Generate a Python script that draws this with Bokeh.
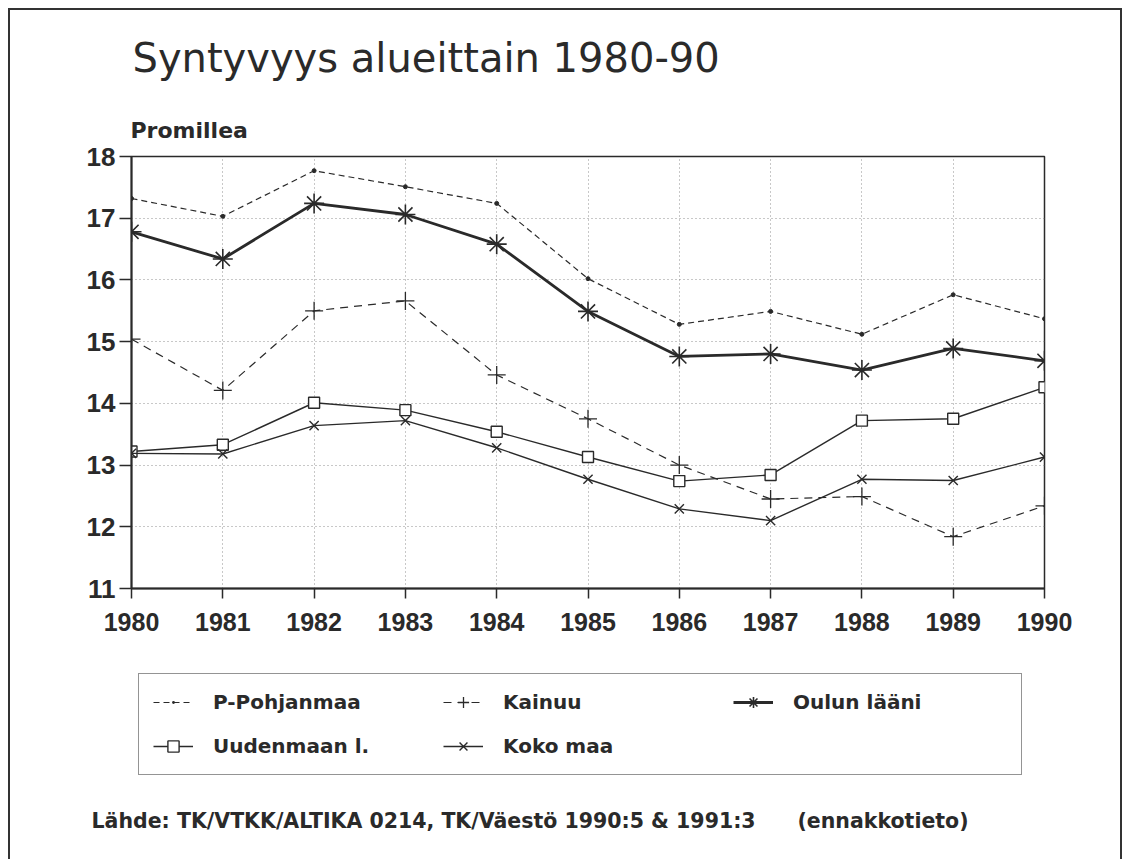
from bokeh.plotting import figure
from bokeh.layouts import column
from bokeh.models import Legend, LegendItem, Label, FixedTicker, Range1d
from bokeh.embed import file_html
from bokeh.resources import INLINE

years = [1980, 1981, 1982, 1983, 1984, 1985, 1986, 1987, 1988, 1989, 1990]
p_pohjanmaa = [17.32, 17.03, 17.77, 17.51, 17.24, 16.02, 15.28, 15.49, 15.12, 15.76, 15.37]
kainuu = [15.04, 14.21, 15.50, 15.66, 14.46, 13.75, 13.00, 12.45, 12.49, 11.84, 12.34]
oulun_laani = [16.78, 16.34, 17.24, 17.06, 16.58, 15.49, 14.76, 14.80, 14.54, 14.89, 14.69]
uudenmaan_l = [13.22, 13.33, 14.01, 13.89, 13.54, 13.13, 12.74, 12.84, 13.72, 13.75, 14.26]
koko_maa = [13.19, 13.18, 13.64, 13.72, 13.28, 12.77, 12.29, 12.10, 12.77, 12.75, 13.13]
y_ticks = [11, 12, 13, 14, 15, 16, 17, 18]

series_names = ["P-Pohjanmaa", "Kainuu", "Oulun lääni", "Uudenmaan l.", "Koko maa"]

title_text = "Syntyvyys alueittain 1980-90"
unit_text = "Promillea"
source_text = "Lähde: TK/VTKK/ALTIKA 0214, TK/Väestö 1990:5 & 1991:3"
note_text = "(ennakkotieto)"

FONT = "Liberation Sans"
WIDE = "DejaVu Sans"
INK = "#2a2a2a"
NAN = float("nan")

# styles per series: (line_width, line_dash, marker, marker size, marker fill, marker line width, legend marker)
styles = [
    (1.2, "6 4", "circle", 4, INK, 1.0, "dot"),
    (1.2, "8 6", "cross", 18, None, 1.3, "cross"),
    (2.8, "solid", "asterisk", 20, None, 1.6, "asterisk"),
    (1.4, "solid", "square", 11, "white", 1.4, "square"),
    (1.4, "solid", "x", 13, None, 1.4, "x"),
]
values = [p_pohjanmaa, kainuu, oulun_laani, uudenmaan_l, koko_maa]


def blank_figure(h):
    f = figure(width=1110, height=h, output_backend="svg", toolbar_location=None,
               x_axis_type=None, y_axis_type=None, x_range=Range1d(0, 1), y_range=Range1d(0, 1),
               min_border_left=0, min_border_right=0, min_border_top=0, min_border_bottom=0)
    f.grid.visible = False
    f.outline_line_color = None
    f.background_fill_color = "white"
    f.border_fill_color = "white"
    f.frame_align = False
    return f


# ---------- title strip ----------
t = blank_figure(132)
t.add_layout(Label(x=122, y=85, x_units="screen", y_units="screen", text=title_text,
                   text_font=WIDE, text_font_size="40px", text_color=INK,
                   text_baseline="alphabetic"))
t.add_layout(Label(x=120, y=12, x_units="screen", y_units="screen", text=unit_text,
                   text_font=WIDE, text_font_size="22px", text_font_style="bold",
                   text_color=INK, text_baseline="alphabetic"))

# ---------- chart figure ----------
p = figure(width=1110, height=518, output_backend="svg", toolbar_location=None,
           x_range=Range1d(1980, 1990), y_range=Range1d(11, 18),
           min_border_left=121, min_border_top=14, min_border_right=76, min_border_bottom=72)
p.frame_align = False
p.background_fill_color = "white"
p.border_fill_color = "white"
p.outline_line_color = INK
p.outline_line_width = 1.5

p.xgrid.ticker = FixedTicker(ticks=years)
p.ygrid.ticker = FixedTicker(ticks=y_ticks)
for g in (p.xgrid, p.ygrid):
    g.grid_line_color = "#777777"
    g.grid_line_dash = "1 3"
    g.grid_line_alpha = 0.8
    g.grid_line_width = 1

p.xaxis.ticker = FixedTicker(ticks=years)
p.yaxis.ticker = FixedTicker(ticks=y_ticks)
for ax in (p.xaxis, p.yaxis):
    ax.axis_line_color = INK
    ax.axis_line_width = 2
    ax.major_tick_line_color = INK
    ax.major_tick_line_width = 1.5
    ax.major_tick_in = 0
    ax.minor_tick_line_color = None
    ax.major_label_text_font = FONT
    ax.major_label_text_font_style = "bold"
    ax.major_label_text_color = INK
p.xaxis.major_tick_out = 10
p.xaxis.major_label_text_font_size = "25px"
p.xaxis.major_label_standoff = 14
p.yaxis.major_tick_out = 12
p.yaxis.major_label_text_font_size = "26px"
p.yaxis.major_label_standoff = 4

for vals, (lw, dash, mk, ms, mfill, mlw, _lm) in zip(values, styles):
    p.line(years, vals, line_color=INK, line_width=lw, line_dash=dash)
    p.scatter(years, vals, marker=mk, size=ms, fill_color=mfill, line_color=INK, line_width=mlw)

# ---------- legend / source strip ----------
q = blank_figure(199)

items = {}
for name, (lw, dash, mk, ms, mfill, mlw, lmk) in zip(series_names, styles):
    rl = q.line(x=[NAN], y=[NAN], line_color=INK, line_width=lw, line_dash=dash)
    rm = q.scatter(x=[NAN], y=[NAN], marker=lmk, size=ms, fill_color=mfill, line_color=INK, line_width=mlw)
    items[name] = LegendItem(label=name, renderers=[rl, rm])

# column-major fill: col 1 = P-Pohjanmaa / Uudenmaan l., col 2 = Kainuu / Koko maa, col 3 = Oulun lääni
order = ["P-Pohjanmaa", "Uudenmaan l.", "Kainuu", "Koko maa", "Oulun lääni"]
legend = Legend(items=[items[n] for n in order], ncols=3, location=(128, 84))
legend.border_line_color = INK
legend.border_line_width = 1.5
legend.background_fill_color = "white"
legend.glyph_width = 40
legend.glyph_height = 28
legend.label_standoff = 20
legend.label_width = 214
legend.label_height = 28
legend.spacing = 16
legend.padding = 14
legend.label_text_font = WIDE
legend.label_text_font_style = "bold"
legend.label_text_font_size = "20px"
legend.label_text_color = INK
q.add_layout(legend, "center")

q.add_layout(Label(x=81, y=39, x_units="screen", y_units="screen", text=source_text,
                   text_font=WIDE, text_font_size="20.5px", text_font_style="bold",
                   text_color=INK, text_baseline="alphabetic"))
q.add_layout(Label(x=787, y=39, x_units="screen", y_units="screen", text=note_text,
                   text_font=WIDE, text_font_size="20.5px", text_font_style="bold",
                   text_color=INK, text_baseline="alphabetic"))

page = column(t, p, q, spacing=0)
page.styles = {"margin-left": "8px", "margin-top": "8px",
               "border-top": "2px solid #333", "border-left": "2px solid #333",
               "border-right": "2px solid #333"}

open("out.html", "w").write(file_html(page, INLINE))
